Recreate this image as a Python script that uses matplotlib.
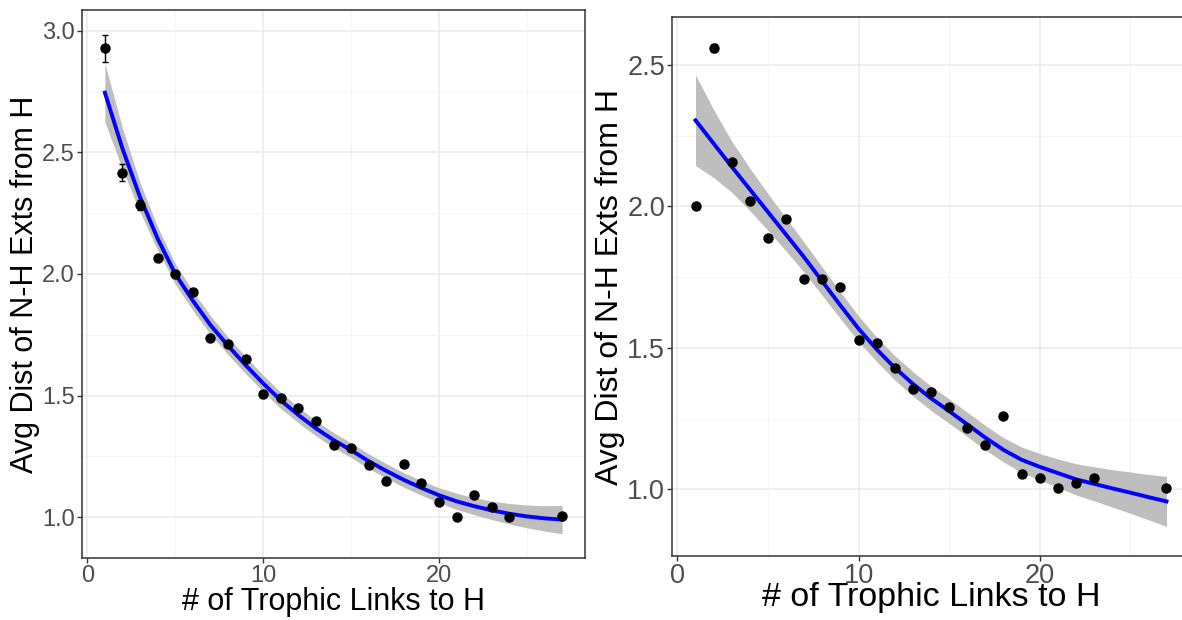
import numpy as np
import matplotlib
matplotlib.use("Agg")
import matplotlib.pyplot as plt
from matplotlib.ticker import MultipleLocator

plt.rcParams['font.family'] = ['Liberation Sans', 'DejaVu Sans']

# left panel data
x_left = [1, 2, 3, 4, 5, 6, 7, 8, 9, 10, 11, 12, 13, 14, 15, 16, 17, 18, 19, 20, 21, 22, 23, 24, 27]
y_left = [2.927, 2.416, 2.282, 2.065, 2.001, 1.926, 1.737, 1.712, 1.649, 1.505, 1.490, 1.449, 1.397,
          1.298, 1.285, 1.216, 1.149, 1.219, 1.142, 1.062, 1.001, 1.092, 1.043, 1.000, 1.003]
err_left = [0.055, 0.035, 0.02, 0.01, 0.008, 0.008, 0.006, 0.006, 0.006, 0.006, 0.006, 0.006, 0.006,
            0.006, 0.006, 0.006, 0.012, 0.006, 0.012, 0.006, 0.006, 0.006, 0.006, 0.006, 0.006]

fit_x = list(range(1, 28))
fit_left = [2.745, 2.515, 2.315, 2.145, 2.0, 1.89, 1.79, 1.705, 1.625, 1.55, 1.48, 1.42, 1.365, 1.317,
            1.275, 1.23, 1.19, 1.153, 1.12, 1.09, 1.065, 1.045, 1.028, 1.014, 1.003, 0.995, 0.99]
band_left = [0.12, 0.085, 0.06, 0.048, 0.042, 0.04, 0.038, 0.036, 0.035, 0.034, 0.033, 0.032, 0.031,
             0.031, 0.03, 0.03, 0.03, 0.03, 0.03, 0.031, 0.033, 0.035, 0.038, 0.042, 0.047, 0.052, 0.058]

# right panel data
x_right = [1, 2, 3, 4, 5, 6, 7, 8, 9, 10, 11, 12, 13, 14, 15, 16, 17, 18, 19, 20, 21, 22, 23, 27]
y_right = [2.000, 2.561, 2.156, 2.020, 1.888, 1.954, 1.743, 1.743, 1.717, 1.528, 1.519, 1.428, 1.356,
           1.344, 1.290, 1.216, 1.157, 1.261, 1.054, 1.042, 1.004, 1.024, 1.042, 1.004]
err_right = [0.006, 0.014, 0.008, 0.006, 0.006, 0.006, 0.006, 0.006, 0.006, 0.006, 0.006, 0.006, 0.006,
             0.006, 0.006, 0.006, 0.006, 0.006, 0.006, 0.006, 0.006, 0.006, 0.006, 0.006]

fit_right = [2.304, 2.222, 2.14, 2.06, 1.98, 1.90, 1.82, 1.735, 1.65, 1.568, 1.495, 1.43, 1.373, 1.322,
             1.277, 1.23, 1.183, 1.14, 1.105, 1.08, 1.058, 1.036, 1.02, 1.004, 0.989, 0.973, 0.958]
band_right = [0.16, 0.12, 0.09, 0.075, 0.065, 0.058, 0.053, 0.05, 0.047, 0.045, 0.043, 0.043, 0.043, 0.043,
              0.043, 0.043, 0.043, 0.043, 0.045, 0.047, 0.05, 0.055, 0.06, 0.066, 0.073, 0.08, 0.088]

xlabel = "# of Trophic Links to H"
ylabel = "Avg Dist of N-H Exts from H"

fig = plt.figure(figsize=(11.82, 6.2), dpi=100)
ax1 = fig.add_axes([0.0694, 0.100, 0.4255, 0.8839])
ax2 = fig.add_axes([0.5685, 0.1032, 0.4383, 0.8694])


def draw(ax, x, y, err, fx, fy, band, ylim, xsize, ysize, tick_size, ylab_x, xlab_y):
    fy = np.array(fy)
    band = np.array(band)
    ax.fill_between(fx, fy - band, fy + band, color='#BEBEBE', lw=0, zorder=2)
    ax.plot(fx, fy, color='blue', lw=2.8, zorder=3)
    ax.errorbar(x, y, yerr=err, fmt='o', color='black', ms=6.5, elinewidth=1,
                capsize=2.5, capthick=1, zorder=4)
    ax.set_xlim(-0.3, 28.3)
    ax.set_ylim(*ylim)
    ax.xaxis.set_major_locator(MultipleLocator(10))
    ax.xaxis.set_minor_locator(MultipleLocator(5))
    ax.yaxis.set_major_locator(MultipleLocator(0.5))
    ax.yaxis.set_minor_locator(MultipleLocator(0.25))
    ax.yaxis.set_major_formatter(matplotlib.ticker.FormatStrFormatter('%.1f'))
    ax.grid(which='major', color='#EBEBEB', lw=1.1, zorder=0)
    ax.grid(which='minor', color='#F2F2F2', lw=0.6, zorder=0)
    ax.set_axisbelow(True)
    for s in ax.spines.values():
        s.set_color('#333333')
        s.set_linewidth(1.1)
    ax.tick_params(which='major', length=3.5, width=1, color='#333333',
                   labelsize=tick_size, labelcolor='#4D4D4D', pad=1.5)
    ax.tick_params(which='minor', length=0)
    ax.set_xlabel(xlabel, fontsize=xsize)
    ax.set_ylabel(ylabel, fontsize=ysize)
    ax.yaxis.set_label_coords(ylab_x, 0.5)
    ax.xaxis.set_label_coords(0.5, xlab_y)


draw(ax1, x_left, y_left, err_left, fit_x, fit_left, band_left, (0.832, 3.085),
     22, 22, 17, -0.0835, -0.053)
draw(ax2, x_right, y_right, err_right, fit_x, fit_right, band_right, (0.765, 2.669),
     24.5, 23, 19.5, -0.0907, -0.049)

fig.savefig("out.png", dpi=100)
